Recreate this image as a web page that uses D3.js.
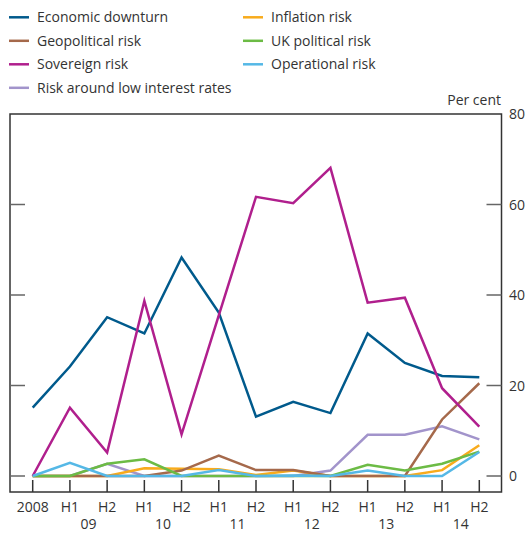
<!DOCTYPE html>
<html>
<head>
<meta charset="utf-8">
<script src="https://cdn.jsdelivr.net/npm/d3@7"></script>
<style>
  body { margin: 0; background: #fff; }
  svg text { font-family: "Open Sans", sans-serif; fill: #333; }
</style>
</head>
<body>
<div id="chart"></div>
<script>
// half-year periods, 2008 then H1/H2 for 09..14
const periods = ["2008", "09H1", "09H2", "10H1", "10H2", "11H1", "11H2",
                 "12H1", "12H2", "13H1", "13H2", "14H1", "14H2"];
const tickLabels = ["2008", "H1", "H2", "H1", "H2", "H1", "H2", "H1", "H2", "H1", "H2", "H1", "H2"];
const years = ["09", "10", "11", "12", "13", "14"];
const yTicks = [0, 20, 40, 60, 80];

const economicDownturn = [15.1, 24.2, 35.1, 31.5, 48.3, 36.1, 13.1, 16.4, 13.9, 31.5, 25.0, 22.1, 21.8];
const inflationRisk    = [0, 0, 0, 1.7, 1.6, 1.5, 0.2, 1.2, 0, 0, 0, 1.3, 6.8];
const geopoliticalRisk = [0, 0, 0, 0, 1.2, 4.5, 1.3, 1.3, 0, 0, 0, 12.5, 20.5];
const ukPoliticalRisk  = [0, 0, 2.7, 3.7, 0, 0, 0, 0, 0, 2.5, 1.2, 2.7, 5.4];
const sovereignRisk    = [0, 15.1, 5.2, 38.7, 9.2, 35.5, 61.7, 60.3, 68.1, 38.3, 39.4, 19.4, 10.9];
const operationalRisk  = [0, 2.9, 0, 0, 0, 1.3, 0, 0.1, 0, 1.2, 0, 0, 5.3];
const lowRatesRisk     = [0, 0, 2.7, 0, 0, 0, 0, 0, 1.2, 9.1, 9.1, 11.0, 8.1];

const series = [
  {name: "Economic downturn", values: economicDownturn, color: "#005a8c"},
  {name: "Inflation risk", values: inflationRisk, color: "#f8ab1c"},
  {name: "Geopolitical risk", values: geopoliticalRisk, color: "#a5694b"},
  {name: "UK political risk", values: ukPoliticalRisk, color: "#6cbb45"},
  {name: "Sovereign risk", values: sovereignRisk, color: "#b01f8d"},
  {name: "Operational risk", values: operationalRisk, color: "#55b8e6"},
  {name: "Risk around low interest rates", values: lowRatesRisk, color: "#a294cb"}
];
// draw order (bottom to top)
const drawOrder = ["Risk around low interest rates", "Inflation risk", "Geopolitical risk",
  "UK political risk", "Economic downturn", "Sovereign risk", "Operational risk"];

const width = 528, height = 534;
const box = {left: 10, right: 501.5, top: 114, bottom: 492};

const svg = d3.select("#chart").append("svg")
  .attr("width", width).attr("height", height);

const x = d3.scalePoint().domain(periods).range([32.7, 479.3]);
const y = d3.scaleLinear().domain([0, 80]).range([476, 114]);

// frame
svg.append("rect")
  .attr("x", box.left).attr("y", box.top)
  .attr("width", box.right - box.left).attr("height", box.bottom - box.top)
  .attr("fill", "none").attr("stroke", "#333").attr("stroke-width", 1.5);

// y ticks, both sides, inward
const yt = svg.append("g");
yTicks.slice(0, 4).forEach(v => {
  yt.append("line").attr("x1", box.left).attr("x2", box.left + 15)
    .attr("y1", y(v)).attr("y2", y(v)).attr("stroke", "#666").attr("stroke-width", 1.5);
  yt.append("line").attr("x1", box.right - 15).attr("x2", box.right)
    .attr("y1", y(v)).attr("y2", y(v)).attr("stroke", "#666").attr("stroke-width", 1.5);
});
yTicks.forEach(v => {
  yt.append("text").attr("x", 509).attr("y", y(v)).attr("dy", "0.36em")
    .attr("font-size", 14).text(v);
});
svg.append("text").attr("x", 501).attr("y", 105).attr("text-anchor", "end")
  .attr("font-size", 14).text("Per cent");

// x ticks
const xt = svg.append("g");
periods.forEach((p, i) => {
  xt.append("line").attr("x1", x(p)).attr("x2", x(p))
    .attr("y1", 480).attr("y2", box.bottom).attr("stroke", "#333").attr("stroke-width", 1.5);
  xt.append("text").attr("x", x(p)).attr("y", 512).attr("text-anchor", "middle")
    .attr("font-size", 14).text(tickLabels[i]);
});
years.forEach((yr, i) => {
  const cx = (x(periods[1 + 2 * i]) + x(periods[2 + 2 * i])) / 2;
  xt.append("text").attr("x", cx).attr("y", 529).attr("text-anchor", "middle")
    .attr("font-size", 14).text(yr);
});

// lines
const line = d3.line().x((d, i) => x(periods[i])).y(d => y(d));
drawOrder.forEach(n => {
  const s = series.find(d => d.name === n);
  svg.append("path").datum(s.values)
    .attr("d", line)
    .attr("fill", "none")
    .attr("stroke", s.color)
    .attr("stroke-width", 2.5)
    .attr("stroke-linejoin", "miter");
});

// legend
const legendPos = [
  [0, 0], [1, 0], [0, 1], [1, 1], [0, 2], [1, 2], [0, 3]
];
series.forEach((s, i) => {
  const [col, row] = legendPos[i];
  const lx = col === 0 ? 9 : 243;
  const ly = 17.3 + row * 23.5;
  svg.append("line").attr("x1", lx).attr("x2", lx + 20)
    .attr("y1", ly).attr("y2", ly).attr("stroke", s.color).attr("stroke-width", 2.5);
  svg.append("text").attr("x", lx + 28).attr("y", ly).attr("dy", "0.35em")
    .attr("font-size", 14).text(s.name);
});
</script>
</body>
</html>
